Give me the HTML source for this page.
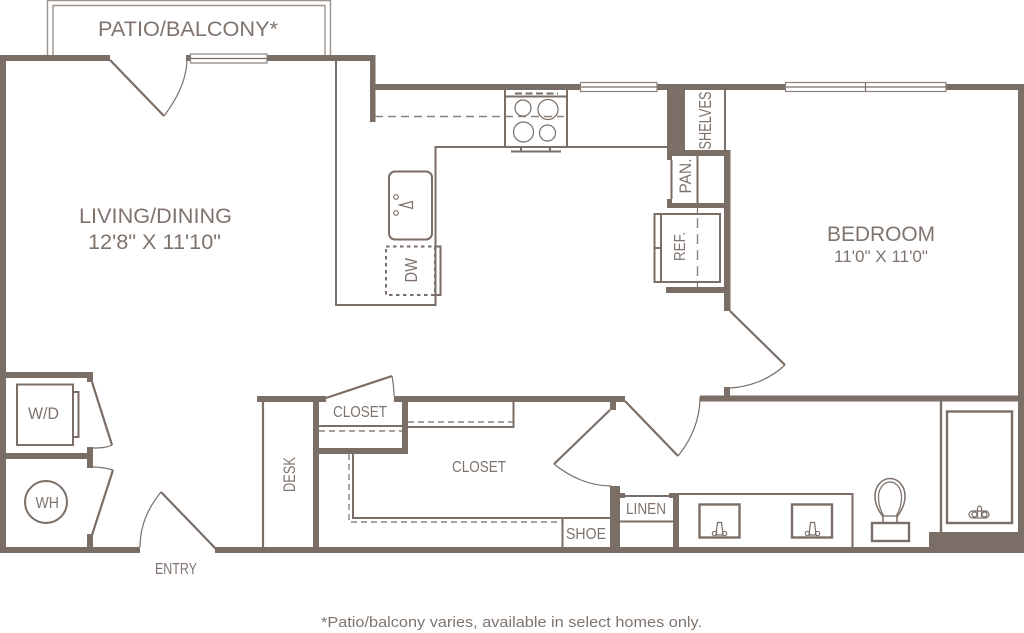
<!DOCTYPE html>
<html><head><meta charset="utf-8"><style>
html,body{margin:0;padding:0;background:#fff}
svg{display:block}
text{font-family:"Liberation Sans",sans-serif;fill:#7f746d}
.w{fill:#7a6e67}
.l{fill:none;stroke:#7a6e67;stroke-width:2}
.t{fill:none;stroke:#7a6e67;stroke-width:1.2}
.p{fill:none;stroke:#9c938d;stroke-width:1.4}
.d{fill:none;stroke:#8c827b;stroke-width:1.4;stroke-dasharray:8 5}
.win{fill:#fff;stroke:#8c827b;stroke-width:1.2}
</style></head><body>
<svg width="1024" height="633" viewBox="0 0 1024 633" xmlns="http://www.w3.org/2000/svg">
<rect width="1024" height="633" fill="#fff"/>
<!-- patio -->
<path class="p" d="M47.500 55V.5H330.500V55M53 55V5.500H325V55"/>
<!-- walls -->
<rect class="w" x="0" y="55" width="110" height="6"/>
<rect class="w" x="0" y="55" width="6" height="498"/>
<rect class="w" x="186" y="55" width="5" height="6"/>
<rect class="w" x="267" y="55" width="108" height="6"/>
<rect class="w" x="370" y="55" width="5.500" height="67"/>
<rect class="w" x="375" y="84" width="649" height="6"/>
<rect class="w" x="1018" y="84" width="6" height="469"/>
<rect class="w" x="667" y="90" width="18" height="66"/>
<rect class="w" x="667" y="150" width="5" height="10"/>
<rect class="w" x="667" y="150" width="63" height="6"/>
<rect class="w" x="724" y="150" width="6.500" height="161"/>
<rect class="w" x="667" y="203" width="60" height="5"/>
<rect class="w" x="667" y="199" width="5" height="9"/>
<rect class="w" x="666" y="287" width="60" height="6"/>
<rect class="w" x="6" y="372" width="87" height="6"/>
<rect class="w" x="87" y="372" width="6" height="10"/>
<rect class="w" x="87" y="447" width="6" height="21"/>
<rect class="w" x="6" y="453" width="84" height="6"/>
<rect class="w" x="87" y="534" width="6" height="15"/>
<rect class="w" x="0" y="547" width="140" height="6"/>
<rect class="w" x="215" y="547" width="809" height="6"/>
<rect class="w" x="257" y="396" width="69" height="6"/>
<rect class="w" x="313" y="396" width="6" height="151"/>
<rect class="w" x="394" y="396" width="231" height="6"/>
<rect class="w" x="402" y="396" width="6" height="58"/>
<rect class="w" x="319" y="448" width="89" height="6"/>
<rect class="w" x="610" y="400" width="6" height="10"/>
<rect class="w" x="610" y="486" width="10" height="67"/>
<rect class="w" x="610" y="493" width="15" height="5"/>
<rect class="w" x="669" y="493" width="10" height="5"/>
<rect class="w" x="673" y="493" width="6" height="60"/>
<rect class="w" x="700" y="395.500" width="324" height="6"/>
<rect class="w" x="724" y="387" width="6" height="10"/>
<rect class="w" x="929" y="532" width="95" height="21"/>
<!-- windows -->
<rect class="win" x="190.500" y="54" width="76.500" height="9"/>
<path class="t" d="M191 58.500H267"/>
<rect class="win" x="580.500" y="82.500" width="76.500" height="9"/>
<path class="t" d="M581 87H657"/>
<rect class="win" x="785.500" y="82.500" width="160.500" height="9"/>
<path class="t" d="M786 87H946M865.500 83V91"/>
<!-- doors -->
<path class="l" style="stroke-width:2.200" d="M110 60L164 116"/>
<path class="t" d="M164 116C176 100 186 82 187 61"/>
<path class="l" style="stroke-width:2.200" d="M216 549L161 492"/>
<path class="t" d="M161 492C149 507 140 524 140 547"/>
<path class="l" style="stroke-width:2.200" d="M92 382L112 445"/>
<path class="t" d="M112 445C106 448 99 448 93 448"/>
<path class="l" style="stroke-width:2.200" d="M92 535L113 470"/>
<path class="t" d="M113 470C106 468 99 467 93 467"/>
<path class="l" style="stroke-width:2.200" d="M326 398L392 376"/>
<path class="t" d="M392 376C393 382 394 390 394 396"/>
<path class="l" style="stroke-width:2.200" d="M610 410L554 464"/>
<path class="t" d="M554 464C570 477 590 486 611 486"/>
<path class="l" style="stroke-width:2.200" d="M625 401L678 456"/>
<path class="t" d="M678 456C691 440 700 420 700 397"/>
<path class="l" style="stroke-width:2.200" d="M730 311L785 365"/>
<path class="t" d="M785 365C770 379 750 387 730 388"/>
<!-- kitchen counters -->
<path class="l" d="M336 61V305H435.500V147H668"/>
<path class="l" d="M725 90V150"/>
<path class="d" d="M375 116.500H564"/>
<!-- range -->
<path class="l" d="M505 90V147M567 90V147M505 96.500H567"/>
<path class="l" style="stroke-dasharray:7 3.500" d="M515 93.500H558"/>
<circle class="t" cx="523" cy="108" r="8"/>
<circle class="t" cx="548" cy="109.500" r="10"/>
<circle class="t" cx="523.500" cy="132" r="10"/>
<circle class="t" cx="547.500" cy="133" r="8"/>
<path class="l" d="M511 151.500H561M521 147V151M550 147V151"/>
<!-- sink -->
<rect class="l" x="389" y="171.500" width="43" height="68" rx="6"/>
<path class="t" d="M399.500 205L412.500 201.500V208.500Z"/>
<circle class="t" cx="396" cy="197" r="2.300"/>
<circle class="t" cx="396" cy="213" r="2.300"/>
<!-- DW -->
<rect x="386" y="246.500" width="49" height="48.500" fill="none" stroke="#7a6e67" stroke-width="2" stroke-dasharray="3.500 3.500"/>
<rect class="l" x="435.500" y="246.500" width="5" height="48.500"/>
<!-- pantry / fridge -->
<path class="l" d="M671.500 160V199M697.500 156V203"/>
<path class="t" d="M697.500 208V214M697.500 282V287"/>
<path class="d" style="stroke-dasharray:10 6" d="M697.500 218V282"/>
<rect class="l" x="654.500" y="214" width="65.500" height="68"/>
<path class="l" d="M661 214V282M654.500 248H661"/>
<!-- laundry -->
<rect class="l" x="17" y="384.500" width="56" height="60.500"/>
<rect class="l" x="73" y="392" width="5.500" height="45"/>
<circle class="l" cx="46" cy="502" r="21"/>
<!-- desk -->
<path class="l" style="stroke-width:2.200" d="M263 402V547"/>
<!-- closets -->
<path class="l" d="M319 426H402M408 427H513.500V402M353 454V518H610M562.500 518V547"/>
<path class="d" style="stroke-dasharray:6 4" d="M319 431H402M408 422H513M349 454V522H562"/>
<!-- linen / bath -->
<path class="l" d="M620 496H670M620 521.500H673M679 494H852.500V547"/>
<rect class="l" style="stroke-width:2.400" x="699.500" y="504.500" width="40" height="33"/>
<rect class="l" style="stroke-width:2.400" x="792" y="504.500" width="40" height="33"/>
<path class="t" d="M717.500 522.500H721.500L723 535H716ZM810.500 522.500H814.500L816 535H809Z"/>
<circle class="t" cx="714.500" cy="533.500" r="2.200"/><circle class="t" cx="724.500" cy="533.500" r="2.200"/>
<circle class="t" cx="807.500" cy="533.500" r="2.200"/><circle class="t" cx="817.500" cy="533.500" r="2.200"/>
<!-- toilet -->
<rect class="l" style="stroke-width:2.400" x="872" y="523" width="37" height="18"/>
<path class="l" style="stroke-width:1.500" d="M883 523V517C879 511 875 505 875 496C875 486 882 478.500 890 478.500C898 478.500 905 486 905 496C905 505 901 511 897 517V523"/>
<path class="t" d="M884 516C880 510 878.500 504 878.500 497C878.500 488 884 482 890 482C896 482 901.500 488 901.500 497C901.500 504 900 510 896 516Z"/>
<!-- tub -->
<path class="l" style="stroke-width:2.400" d="M941 401V532"/>
<rect class="l" style="stroke-width:2.400" x="947" y="411.500" width="65" height="111.500"/>
<rect class="t" x="969" y="511" width="20" height="7" rx="3.500"/>
<path class="t" d="M977.500 517V509C977.500 505 981.500 505 981.500 509V517"/>
<circle class="t" cx="974.500" cy="514.500" r="2.500"/><circle class="t" cx="984.500" cy="514.500" r="2.500"/>
<!-- labels -->
<text x="98" y="36" font-size="21" textLength="180" lengthAdjust="spacingAndGlyphs">PATIO/BALCONY*</text>
<text x="79" y="223" font-size="21" textLength="153" lengthAdjust="spacingAndGlyphs">LIVING/DINING</text>
<text x="88" y="249" font-size="21" textLength="133" lengthAdjust="spacingAndGlyphs">12'8" X 11'10"</text>
<text x="827" y="241" font-size="21" textLength="108" lengthAdjust="spacingAndGlyphs">BEDROOM</text>
<text x="834" y="262" font-size="16.500" textLength="94" lengthAdjust="spacingAndGlyphs">11'0" X 11'0"</text>
<text x="333" y="417" font-size="15.500" textLength="54" lengthAdjust="spacingAndGlyphs">CLOSET</text>
<text x="452" y="472" font-size="15.500" textLength="54" lengthAdjust="spacingAndGlyphs">CLOSET</text>
<text x="566" y="539" font-size="15.500" textLength="40" lengthAdjust="spacingAndGlyphs">SHOE</text>
<text x="626" y="514" font-size="15.500" textLength="40" lengthAdjust="spacingAndGlyphs">LINEN</text>
<text x="28" y="419" font-size="16.500" textLength="31" lengthAdjust="spacingAndGlyphs">W/D</text>
<text x="35.500" y="508" font-size="15.500" textLength="23.500" lengthAdjust="spacingAndGlyphs">WH</text>
<text x="155" y="574" font-size="15.500" textLength="42" lengthAdjust="spacingAndGlyphs">ENTRY</text>
<text transform="translate(295,492) rotate(-90)" font-size="16.500" textLength="35" lengthAdjust="spacingAndGlyphs">DESK</text>
<text transform="translate(711,149.500) rotate(-90)" font-size="17.500" textLength="58" lengthAdjust="spacingAndGlyphs">SHELVES</text>
<text transform="translate(691,193.500) rotate(-90)" font-size="16.500" textLength="35" lengthAdjust="spacingAndGlyphs">PAN.</text>
<text transform="translate(685,261) rotate(-90)" font-size="16" textLength="29" lengthAdjust="spacingAndGlyphs">REF.</text>
<text transform="translate(417,282.500) rotate(-90)" font-size="17.500" textLength="24.500" lengthAdjust="spacingAndGlyphs">DW</text>
<text x="321" y="627" font-size="15" textLength="381" lengthAdjust="spacingAndGlyphs">*Patio/balcony varies, available in select homes only.</text>
</svg>
</body></html>
